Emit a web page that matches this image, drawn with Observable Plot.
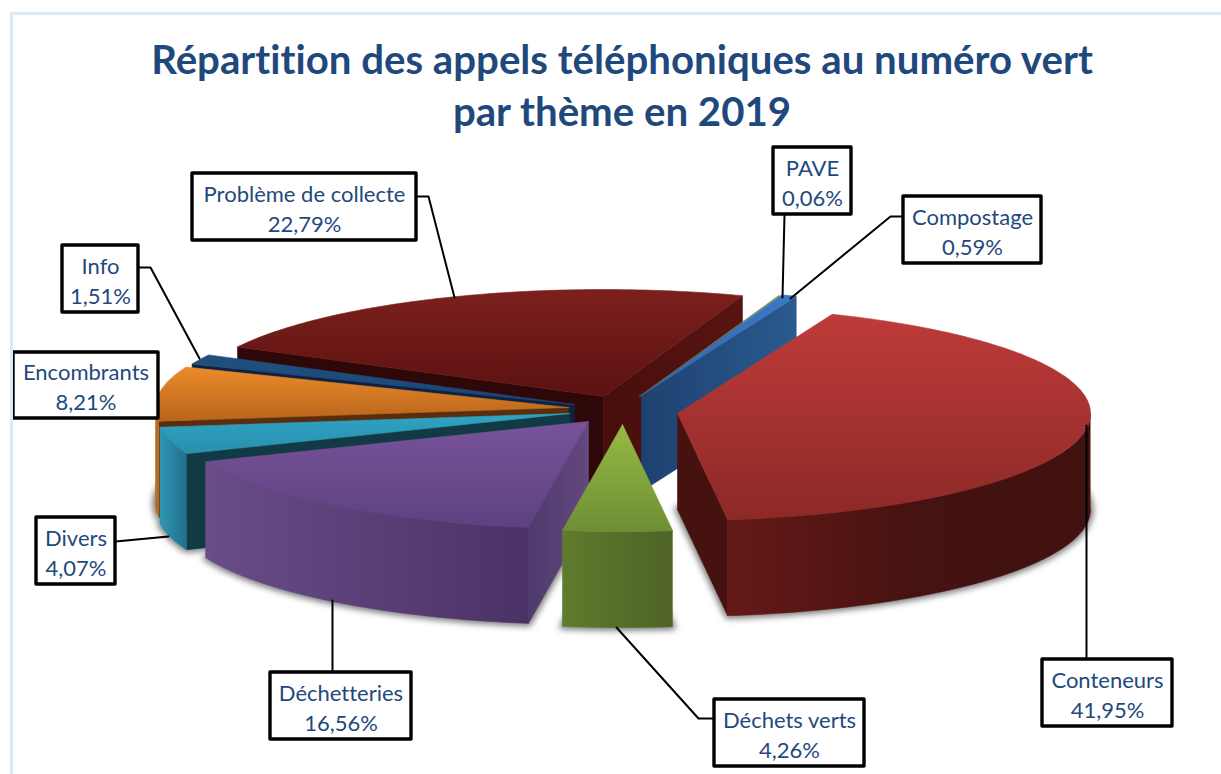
<!DOCTYPE html>
<html lang="fr">
<head>
<meta charset="utf-8">
<script src="https://cdn.jsdelivr.net/npm/d3@7"></script>
<script src="https://cdn.jsdelivr.net/npm/@observablehq/plot@0.6"></script>
<style>
html,body{margin:0;padding:0;background:#fff;overflow:hidden;width:1221px;height:774px}
#frame{position:absolute;left:10px;top:12px;right:0;bottom:0;border-left:3px solid #dbe8f6;border-top:3px solid #dbe8f6;pointer-events:none}
#title{position:relative;margin:0;height:130px;box-sizing:border-box;padding-top:33px;text-align:center;font:bold 40.2px/52px Lato,"Open Sans",sans-serif;font-variant-ligatures:none;color:#1f497d;width:1244px}
#chart svg{display:block}
#chart text{font-variant-ligatures:none}
</style>
</head>
<body>
<div id="frame"></div>
<h1 id="title">Répartition des appels téléphoniques au numéro vert<br>par thème en 2019</h1>
<div id="chart"></div>
<script>
// Data: order of the pie, clockwise from the first-slice angle
const categories = ["Conteneurs","Déchets verts","Déchetteries","Divers","Encombrants","Info","Problème de collecte","PAVE","Compostage"];
const shares = [41.95,4.26,16.56,4.07,8.21,1.51,22.79,0.06,0.59];

// Layout of the 3D projection
const firstAngle = 22, rx = 413, ry = 107, depth = 96;
const apexX = [677,622,588,569,568,574,603,639,641];
const apexY = [413,424,421,413,407,404,396,396,395];

// Label boxes [x1,y1,x2,y2] and leader lines
const boxes = [[1042,659,1172,726],[714,699,864,766],[270,672,411,739],[36,517,115,584],[13,352,158,418],[62,245,138,312],[192,173,416,240],[773,147,851,214],[903,196,1041,263]];
const leaders = [
  [[1086,659],[1086,425]],
  [[714,718],[698,718],[616,627]],
  [[332,672],[332,600]],
  [[115,541],[168,536]],
  [],
  [[138,267],[150,267],[199,358]],
  [[416,196],[428,196],[454,297]],
  [[784,214],[782,297]],
  [[903,216],[890,216],[790,298]]
];

// Style per slice: top gradient, outer wall gradient, cut-wall colours
const topColors = [["#be3b39","#8c2927"],["#96ba44","#6e8e34"],["#78539a","#5e4180"],["#2fa3c4","#2a8fad"],["#ec8b2a","#b8641c"],["#20507f","#1c4474"],["#7c201d","#5c1210"],["#7a8f3a","#6a7f30"],["#3b78c4","#3368ad"]];
const wallColors = [["#651a18","#561614","#461311","#421210","#421210"],["#5f7b2d","#4f6326"],["#6a4c88","#4a3266"],["#2f96b3","#20708c"],["#c36c1d","#b9651c"],null,null,null,null];
const startWall = [null,null,["#4e3a6c","#64487f"],"#123a45","#5a2e0c","#0d2240","#2e0808",null,null];
const endWall = ["#451210",null,null,null,null,null,["#480e0c","#581411"],null,["#1f4170","#2a5a8f"]];

// Angular extents from the shares
let acc = firstAngle;
const slices = categories.map((name,i) => {
  const a0 = acc; const a1 = acc + shares[i]*3.6; acc = a1;
  return {i,name,share:shares[i],a0,a1,cx:apexX[i],cy:apexY[i]};
});
const pt = (s,t,dy=0) => {
  const r = t*Math.PI/180;
  return {x:s.cx+rx*Math.sin(r), y:s.cy-ry*Math.cos(r)+dy};
};
const arc = (s,a,b,dy=0) => {
  const out=[]; const n=Math.max(2,Math.ceil((b-a)));
  for(let k=0;k<=n;k++) out.push(pt(s,a+(b-a)*k/n,dy));
  return out;
};
const topPoly = s => [{x:s.cx,y:s.cy},...arc(s,s.a0,s.a1),{x:s.cx,y:s.cy}];
const wallPoly = (s,t) => { const p=pt(s,t); return [{x:s.cx,y:s.cy},p,{x:p.x,y:p.y+depth},{x:s.cx,y:s.cy+depth},{x:s.cx,y:s.cy}]; };
const outerPoly = s => {
  const a=Math.max(s.a0,90), b=Math.min(s.a1,270);
  return b>a ? [...arc(s,a,b),...arc(s,a,b,depth).reverse()] : null;
};
const bottomPoly = s => [{x:s.cx,y:s.cy+depth},...arc(s,s.a0,s.a1,depth),{x:s.cx,y:s.cy+depth}];

// gradient bookkeeping
const grads=[];
const paint=(c,dir,key)=>{
  if(typeof c==="string") return c;
  const id=`g-${key}`; grads.push({id,dir,c}); return `url(#${id})`;
};
const poly=(pts,fill,extra={})=>Plot.line(pts,{x:"x",y:"y",fill,stroke:fill,strokeWidth:0.6,curve:"linear",...extra});

const marks=[];
// soft shadows under the raised slices
for(const i of [0,1,2,3,4]){
  marks.push(poly(bottomPoly(slices[i]),"#7a7a7a",{stroke:"#7a7a7a",strokeWidth:6,imageFilter:"blur(3px)"}));
}
// painter's order, back to front
for(const i of [6,7,8,5,4,3,2,0,1]){
  const s=slices[i];
  if(endWall[i] && i===0) marks.push(poly(wallPoly(s,s.a1),paint(endWall[i],"h",`e${i}`)));
  if(startWall[i]) marks.push(poly(wallPoly(s,s.a0),paint(startWall[i],"h",`s${i}`)));
  if(endWall[i] && i!==0) marks.push(poly(wallPoly(s,s.a1),paint(endWall[i],"h",`e${i}`)));
  if(wallColors[i]){ const o=outerPoly(s); if(o) marks.push(poly(o,paint(wallColors[i],"h",`w${i}`))); }
  marks.push(poly(topPoly(s),paint(topColors[i],"v",`t${i}`)));
}
// leader lines
leaders.forEach(l=>{ if(l.length) marks.push(Plot.line(l,{x:d=>d[0],y:d=>d[1],stroke:"#000",strokeWidth:2,curve:"linear"})); });
// label boxes and text
marks.push(Plot.rect(boxes,{x1:d=>d[0],y1:d=>d[1],x2:d=>d[2],y2:d=>d[3],fill:"#fff",stroke:"#000",strokeWidth:3.4,strokeLinejoin:"round",inset:0}));
marks.push(Plot.text(slices,{
  x:d=>(boxes[d.i][0]+boxes[d.i][2])/2,
  y:d=>(boxes[d.i][1]+boxes[d.i][3])/2,
  text:d=>`${d.name}\n${d.share.toFixed(2).replace(".",",")}%`,
  fill:"#1f497d",fontSize:22,lineHeight:1.36,fontFamily:"Lato, 'Open Sans', sans-serif",textAnchor:"middle"
}));

const svg=Plot.plot({
  width:1221,height:644,margin:0,
  x:{domain:[0,1221],range:[0,1221],axis:null},
  y:{domain:[130,774],range:[0,644],axis:null},
  style:{background:"transparent"},
  marks
});
const defs=d3.select(svg).insert("defs",":first-child");
grads.forEach(g=>{
  const lg=defs.append("linearGradient").attr("id",g.id).attr("x1",0).attr("y1",0)
    .attr("x2",g.dir==="h"?1:0).attr("y2",g.dir==="h"?0:1);
  g.c.forEach((col,k)=>lg.append("stop").attr("offset",`${100*k/(g.c.length-1)}%`).attr("stop-color",col));
});
document.getElementById("chart").append(svg);
</script>
</body>
</html>
